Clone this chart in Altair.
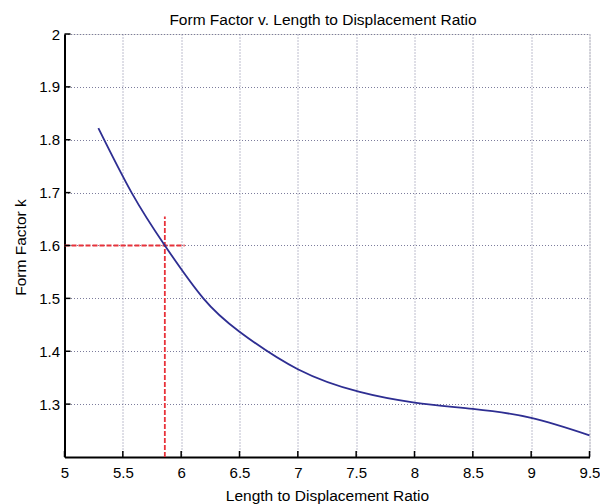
import altair as alt
import pandas as pd

# Form factor curve (length-to-displacement ratio vs. k)
ld_ratio = [5.29, 5.575, 5.86, 6.19, 6.5, 7.0, 7.53, 8.0, 8.5, 9.0, 9.5]
form_k = [1.822, 1.70, 1.60, 1.50, 1.437, 1.366, 1.323, 1.303, 1.291, 1.274, 1.241]

# Read-off point marked with red dashed guides
pick_x = 5.86
pick_k = 1.60
h_guide_end = 6.03
v_guide_top = 1.655

x_ticks = [5, 5.5, 6, 6.5, 7, 7.5, 8, 8.5, 9, 9.5]
y_ticks = [1.3, 1.4, 1.5, 1.6, 1.7, 1.8, 1.9, 2.0]
x_domain = [5, 9.5]
y_domain = [1.2, 2.0]

W, H = 525, 423
FONT = "Liberation Sans"
GRID = "#7c7c9c"

curve_df = pd.DataFrame({"x": ld_ratio, "k": form_k})
guide_df = pd.DataFrame({
    "x": [x_domain[0], pick_x],
    "x2": [h_guide_end, pick_x],
    "y": [pick_k, y_domain[0]],
    "y2": [pick_k, v_guide_top],
})
xt_df = pd.DataFrame({"x": x_ticks})
yt_df = pd.DataFrame({"k": y_ticks})

x_scale = alt.Scale(domain=x_domain, nice=False, zero=False)
y_scale = alt.Scale(domain=y_domain, nice=False, zero=False)

x_axis = alt.Axis(
    values=x_ticks, format="~g", title="Length to Displacement Ratio",
    labelFlush=False, ticks=False, tickSize=0, labelPadding=8,
    domainColor="black", domainWidth=2,
    grid=True, gridColor=GRID, gridDash=[1, 2], gridWidth=1, gridOpacity=1,
    labelFont=FONT, labelFontSize=15, labelColor="black",
    titleFont=FONT, titleFontSize=15.5, titleFontWeight="normal", titleColor="black",
    titleBaseline="alphabetic", titleY=43,
)
y_axis = alt.Axis(
    values=y_ticks, format="~g", title="Form Factor k",
    labelFlush=False, ticks=False, tickSize=0, labelPadding=5,
    domainColor="black", domainWidth=2,
    grid=True, gridColor=GRID, gridDash=[1, 2], gridWidth=1, gridOpacity=1,
    labelFont=FONT, labelFontSize=15, labelColor="black",
    titleFont=FONT, titleFontSize=15.5, titleFontWeight="normal", titleColor="black",
    titleBaseline="alphabetic", titleX=-39.5, titleY=213, titleAngle=-90, titleAlign="center",
)

curve = alt.Chart(curve_df).mark_line(
    color="#2e2e92", strokeWidth=1.8, interpolate="natural"
).encode(
    x=alt.X("x:Q", scale=x_scale, axis=x_axis),
    y=alt.Y("k:Q", scale=y_scale, axis=y_axis),
)

guides = alt.Chart(guide_df).mark_rule(
    color="#e8323a", strokeWidth=1.8, strokeDash=[5, 2]
).encode(
    x=alt.X("x:Q", scale=x_scale),
    x2="x2:Q",
    y=alt.Y("y:Q", scale=y_scale),
    y2="y2:Q",
)

# Inward-pointing tick marks on the bottom and left axes
x_tick_marks = alt.Chart(xt_df).mark_rule(color="black", strokeWidth=1.5).encode(
    x=alt.X("x:Q", scale=x_scale),
    y=alt.value(H),
    y2=alt.value(H - 6),
)
y_tick_marks = alt.Chart(yt_df).mark_rule(color="black", strokeWidth=1.5).encode(
    y=alt.Y("k:Q", scale=y_scale),
    x=alt.value(0),
    x2=alt.value(6),
)

chart = alt.layer(guides, curve, x_tick_marks, y_tick_marks).properties(
    width=W, height=H,
    title=alt.TitleParams(
        "Form Factor v. Length to Displacement Ratio",
        font=FONT, fontSize=15.5, fontWeight="normal", color="black",
        anchor="middle", baseline="alphabetic", offset=0, dy=13, dx=-4,
    ),
    autosize=alt.AutoSizeParams(type="none"),
    padding={"left": 64.5, "top": 34, "right": 10.5, "bottom": 47},
).configure_view(stroke=None).configure(background="white")

chart.save("out.html", embed_options={"renderer": "svg", "actions": False})
